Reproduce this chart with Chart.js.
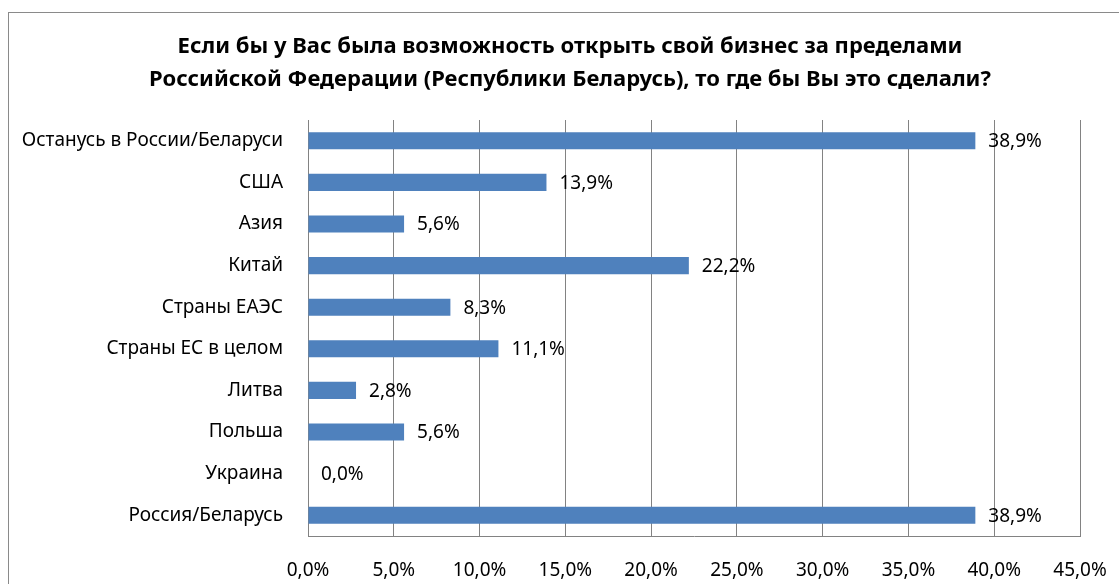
<!DOCTYPE html>
<html>
<head>
<meta charset="utf-8">
<script src="https://cdn.jsdelivr.net/npm/chart.js@4"></script>
<style>
  html, body { margin: 0; padding: 0; background: #fff; overflow: hidden; }
  #wrap { position: relative; width: 1119px; height: 584px; }
</style>
</head>
<body>
<div id="wrap"><canvas id="chart"></canvas></div>
<script>
const categories = [
  'Останусь в России/Беларуси',
  'США',
  'Азия',
  'Китай',
  'Страны ЕАЭС',
  'Страны ЕС в целом',
  'Литва',
  'Польша',
  'Украина',
  'Россия/Беларусь'
];
const values = [38.9, 13.9, 5.6, 22.2, 8.3, 11.1, 2.8, 5.6, 0.0, 38.9];
const xTicks = [0, 5, 10, 15, 20, 25, 30, 35, 40, 45];
const titleLines = [
  'Если бы у Вас была возможность открыть свой бизнес за пределами',
  'Российской Федерации (Республики Беларусь), то где бы Вы это сделали?'
];

const fontFamily = '"Noto Sans", "DejaVu Sans", sans-serif';
const fmt = v => v.toFixed(1).replace('.', ',') + '%';

// frame + title
const framePlugin = {
  id: 'frame',
  afterDraw: chart => {
    const ctx = chart.ctx;
    ctx.save();
    ctx.strokeStyle = '#8a8a8a';
    ctx.lineWidth = 1;
    ctx.strokeRect(8.5, 12.5, 2000, 2000);
    ctx.fillStyle = '#000';
    ctx.font = 'bold 22px ' + fontFamily;
    ctx.textAlign = 'center';
    ctx.textBaseline = 'middle';
    ctx.fillText(titleLines[0], 570, 47);
    ctx.fillText(titleLines[1], 570, 80);
    ctx.restore();
  }
};

// value labels to the right of each bar
const valueLabels = {
  id: 'valueLabels',
  afterDatasetsDraw: chart => {
    const ctx = chart.ctx;
    const meta = chart.getDatasetMeta(0);
    ctx.save();
    ctx.fillStyle = '#000';
    ctx.font = '19px ' + fontFamily;
    ctx.textAlign = 'left';
    ctx.textBaseline = 'middle';
    meta.data.forEach((bar, i) => {
      ctx.fillText(fmt(values[i]), bar.x + 13, bar.y + 1);
    });
    ctx.restore();
  }
};

new Chart(document.getElementById('chart'), {
  type: 'bar',
  data: {
    labels: categories,
    datasets: [{
      data: values,
      backgroundColor: '#4f81bd',
      borderWidth: 0,
      barPercentage: 0.41,
      categoryPercentage: 1
    }]
  },
  options: {
    indexAxis: 'y',
    responsive: true,
    maintainAspectRatio: false,
    animation: false,
    layout: { padding: { top: 120, right: 39, left: 0, bottom: 0 } },
    plugins: {
      legend: { display: false },
      title: { display: false },
      tooltip: { enabled: false }
    },
    scales: {
      x: {
        min: 0,
        max: 45,
        afterBuildTicks: scale => {
          scale.ticks = xTicks.map(v => ({ value: v }));
        },
        afterFit: scale => {
          scale.height = 48;
          scale.paddingLeft = 0;
          scale.paddingRight = 0;
        },
        grid: { color: '#828282', lineWidth: 1, drawTicks: false },
        border: { display: true, color: '#828282' },
        ticks: {
          color: '#000',
          padding: 23,
          font: { family: fontFamily, size: 19 },
          callback: v => fmt(v)
        }
      },
      y: {
        afterFit: scale => { scale.width = 308; },
        grid: { display: false, drawTicks: false },
        border: { display: false },
        ticks: {
          color: '#000',
          padding: 25,
          font: { family: fontFamily, size: 19 }
        }
      }
    }
  },
  plugins: [framePlugin, valueLabels]
});
</script>
</body>
</html>
